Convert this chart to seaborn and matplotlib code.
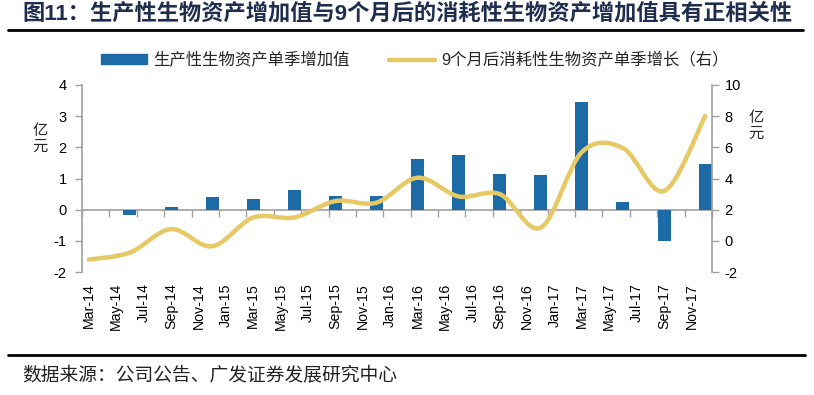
import pandas as pd
import numpy as np
import matplotlib
matplotlib.use("Agg")
import matplotlib.pyplot as plt
import seaborn as sns
from matplotlib.path import Path
from matplotlib.patches import PathPatch, Patch
from matplotlib.lines import Line2D

# quarterly data points (month of the quarter end)
quarters = ["2014-03", "2014-06", "2014-09", "2014-12",
            "2015-03", "2015-06", "2015-09", "2015-12",
            "2016-03", "2016-06", "2016-09", "2016-12",
            "2017-03", "2017-06", "2017-09", "2017-12"]
# 生产性生物资产单季增加值 (left axis, 亿元)
bar_values = [-0.02, -0.18, 0.09, 0.41, 0.33, 0.64, 0.43, 0.45,
              1.63, 1.76, 1.15, 1.10, 3.47, 0.25, -1.00, 1.47]
# 9个月后消耗性生物资产单季增长 (right axis, 亿元)
line_values = [-1.20, -0.75, 0.75, -0.35, 1.50, 1.50, 2.55, 2.45,
               4.05, 2.85, 3.00, 0.85, 5.70, 5.95, 3.20, 8.00]
tick_labels = ["Mar-14", "May-14", "Jul-14", "Sep-14", "Nov-14",
               "Jan-15", "Mar-15", "May-15", "Jul-15", "Sep-15", "Nov-15",
               "Jan-16", "Mar-16", "May-16", "Jul-16", "Sep-16", "Nov-16",
               "Jan-17", "Mar-17", "May-17", "Jul-17", "Sep-17", "Nov-17"]

BLUE = "#1C6AA6"
YELLOW = "#E6C865"
GRAY = "#A0A0A0"

months = pd.date_range("2014-03-01", "2017-12-01", freq="MS")
q_pos = [months.get_loc(pd.Timestamp(q + "-01")) for q in quarters]
df = pd.DataFrame({"pos": q_pos, "bar": bar_values, "line": line_values})

sns.set_theme(style="white")
plt.rcParams["font.family"] = ["Liberation Sans", "Noto Sans CJK SC", "DejaVu Sans"]
plt.rcParams["axes.unicode_minus"] = False

fig = plt.figure(figsize=(8.14, 3.95), dpi=100)
ax = fig.add_axes([82 / 814, 1 - 272 / 395, 630 / 814, 187 / 395])

# bars, one month wide on a monthly axis
sns.barplot(data=df, x="pos", y="bar", native_scale=True, width=0.95 / 3,
            color=BLUE, saturation=1, errorbar=None, linewidth=0, ax=ax)
ax.set_xlim(-0.5, len(months) - 0.5)
ax.set_ylim(-2, 4)
ax.set_yticks(range(-2, 5))
ax.set_xlabel("")
ax.set_ylabel("")

ax.set_xticks(range(0, len(months), 2))
ax.set_xticklabels(tick_labels, rotation=90, fontsize=10.2, color="black")
ax.tick_params(axis="x", length=0, pad=8)
ax.tick_params(axis="y", direction="out", length=5, width=1, color=GRAY,
               labelsize=10.5, labelcolor="black", pad=6, left=True)
for s in ["top", "right", "bottom"]:
    ax.spines[s].set_visible(False)
ax.spines["left"].set_color(GRAY)
ax.spines["left"].set_linewidth(1.2)

# zero line with category tick marks
zero_ax = ax.secondary_xaxis(2 / 6)
zero_ax.set_xticks(np.arange(-0.5, len(months), 2))
zero_ax.tick_params(axis="x", direction="out", length=5, width=1, color=GRAY,
                    labelbottom=False)
zero_ax.spines["bottom"].set_color(GRAY)
zero_ax.spines["bottom"].set_linewidth(1.2)

# right axis and smoothed line
ax2 = ax.twinx()
ax2.set_ylim(-2, 10)
ax2.set_yticks(range(-2, 11, 2))
ax2.tick_params(axis="y", direction="out", length=5, width=1, color=GRAY,
                labelsize=10.5, labelcolor="black", pad=4, right=True)
for s in ["top", "left", "bottom"]:
    ax2.spines[s].set_visible(False)
ax2.spines["right"].set_color(GRAY)
ax2.spines["right"].set_linewidth(1.2)
ax2.grid(False)
ax.grid(False)

pts = df[["pos", "line"]].to_numpy(dtype=float)
ext = np.vstack([pts[0], pts, pts[-1]])
verts = [tuple(pts[0])]
codes = [Path.MOVETO]
for i in range(len(pts) - 1):
    p0, p1, p2, p3 = ext[i], ext[i + 1], ext[i + 2], ext[i + 3]
    verts += [tuple(p1 + (p2 - p0) / 6), tuple(p2 - (p3 - p1) / 6), tuple(p2)]
    codes += [Path.CURVE4] * 3
ax2.add_patch(PathPatch(Path(verts, codes), fill=False, edgecolor=YELLOW,
                        lw=3.2, capstyle="round", joinstyle="round"))

# unit labels
fig.text(40 / 814, 1 - 139 / 395, "亿\n元", ha="center", va="center",
         fontsize=11, linespacing=1.1)
fig.text(756 / 814, 1 - 126 / 395, "亿\n元", ha="center", va="center",
         fontsize=11, linespacing=1.1)

handles = [Patch(color=BLUE), Line2D([], [], color=YELLOW, lw=3.2)]
fig.legend(handles, ["生产性生物资产单季增加值", "9个月后消耗性生物资产单季增长（右）"],
           loc="center left", bbox_to_anchor=(101 / 814, 1 - 60 / 395), ncol=2,
           frameon=False, fontsize=11.8, handlelength=2.8, handleheight=0.6,
           handletextpad=0.4, columnspacing=2.4, borderpad=0, borderaxespad=0)

fig.text(22 / 814, 1 - 14 / 395,
         "图11：生产性生物资产增加值与9个月后的消耗性生物资产增加值具有正相关性",
         ha="left", va="center", fontsize=16, fontweight="bold", color="#1F2D4F")
fig.add_artist(Line2D([8 / 814, 803 / 814], [1 - 30 / 395] * 2, color="black", lw=2))
fig.add_artist(Line2D([8 / 814, 805 / 814], [1 - 355 / 395] * 2, color="black", lw=2))
fig.text(22 / 814, 1 - 375 / 395, "数据来源：公司公告、广发证券发展研究中心",
         ha="left", va="center", fontsize=13.5, color="#222222")

fig.savefig("out.png", dpi=100)
